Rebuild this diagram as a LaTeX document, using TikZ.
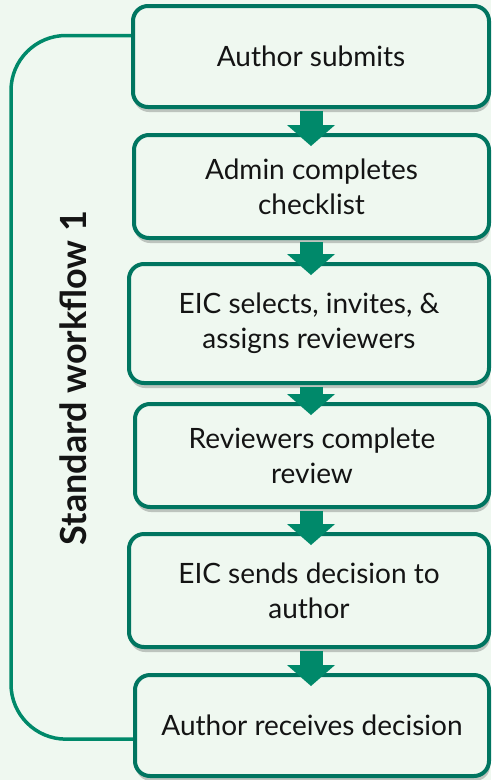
\documentclass[tikz,border=0pt]{standalone}
\usepackage{fontspec}
\setmainfont{Lato}
\usepackage{tikz}
\usetikzlibrary{arrows.meta,calc,shadows,positioning}
\usepackage{xcolor}
\definecolor{bgcolor}{RGB}{239, 248, 240}
\definecolor{boxcolor}{RGB}{0, 117, 96}
\definecolor{flowcolor}{RGB}{0, 137, 106}
\definecolor{textcolor}{RGB}{20, 20, 20}

\begin{document}
\begin{tikzpicture}[
    x=1pt, y=-1pt,
    stepbox/.style={rectangle, rounded corners=15pt, draw=boxcolor, line width=4pt, fill=bgcolor,
        drop shadow={shadow xshift=1pt, shadow yshift=-5pt, opacity=0.3, fill=black!70},
        align=center, text=textcolor, font=\fontsize{28}{35}\selectfont},
    flow/.style={flowcolor, line width=23pt, -{Triangle[width=48pt, length=21pt, line width=0pt]}},
    bracket/.style={flowcolor, line width=3.5pt, rounded corners=55pt}
]
    % Background
    \fill[bgcolor] (0,0) rectangle (491,780);

    % Steps
    \node[stepbox, minimum width=356, minimum height=101] (b1) at (311, 56.5) {Author submits};
    \node[stepbox, minimum width=355, minimum height=103] (b2) at (311.5, 186.5) {Admin completes\\checklist};
    \node[stepbox, minimum width=360, minimum height=119] (b3) at (309, 323.5) {EIC selects, invites, \&\\assigns reviewers};
    \node[stepbox, minimum width=354, minimum height=103] (b4) at (312, 455.5) {Reviewers complete\\review};
    \node[stepbox, minimum width=360, minimum height=113] (b5) at (309, 590.5) {EIC sends decision to\\author};
    \node[stepbox, minimum width=354, minimum height=101] (b6) at (312, 725.5) {Author receives decision};

    % Arrows between steps
    \draw[flow] ($(b1.south)+(0,2)$) -- ($(b2.north -| b1.south)+(0,13)$);
    \draw[flow] ($(b2.south -| b1.south)+(0,2)$) -- ($(b3.north -| b1.south)+(0,13)$);
    \draw[flow] ($(b3.south -| b1.south)+(0,2)$) -- ($(b4.north -| b1.south)+(0,13)$);
    \draw[flow] ($(b4.south -| b1.south)+(0,2)$) -- ($(b5.north -| b1.south)+(0,13)$);
    \draw[flow] ($(b5.south -| b1.south)+(0,2)$) -- ($(b6.north -| b1.south)+(0,13)$);

    % Workflow bracket
    \draw[bracket] ($(b1.north west)!0.3!(b1.south west)$) -- ++(-120,0)
        |- ($(b6.north west)!0.63!(b6.south west)$);

    % Label
    \node[rotate=90, text=textcolor, font=\fontsize{36}{40}\selectfont\bfseries] (label) at (73, 378) {Standard workflow 1};
\end{tikzpicture}
\end{document}
